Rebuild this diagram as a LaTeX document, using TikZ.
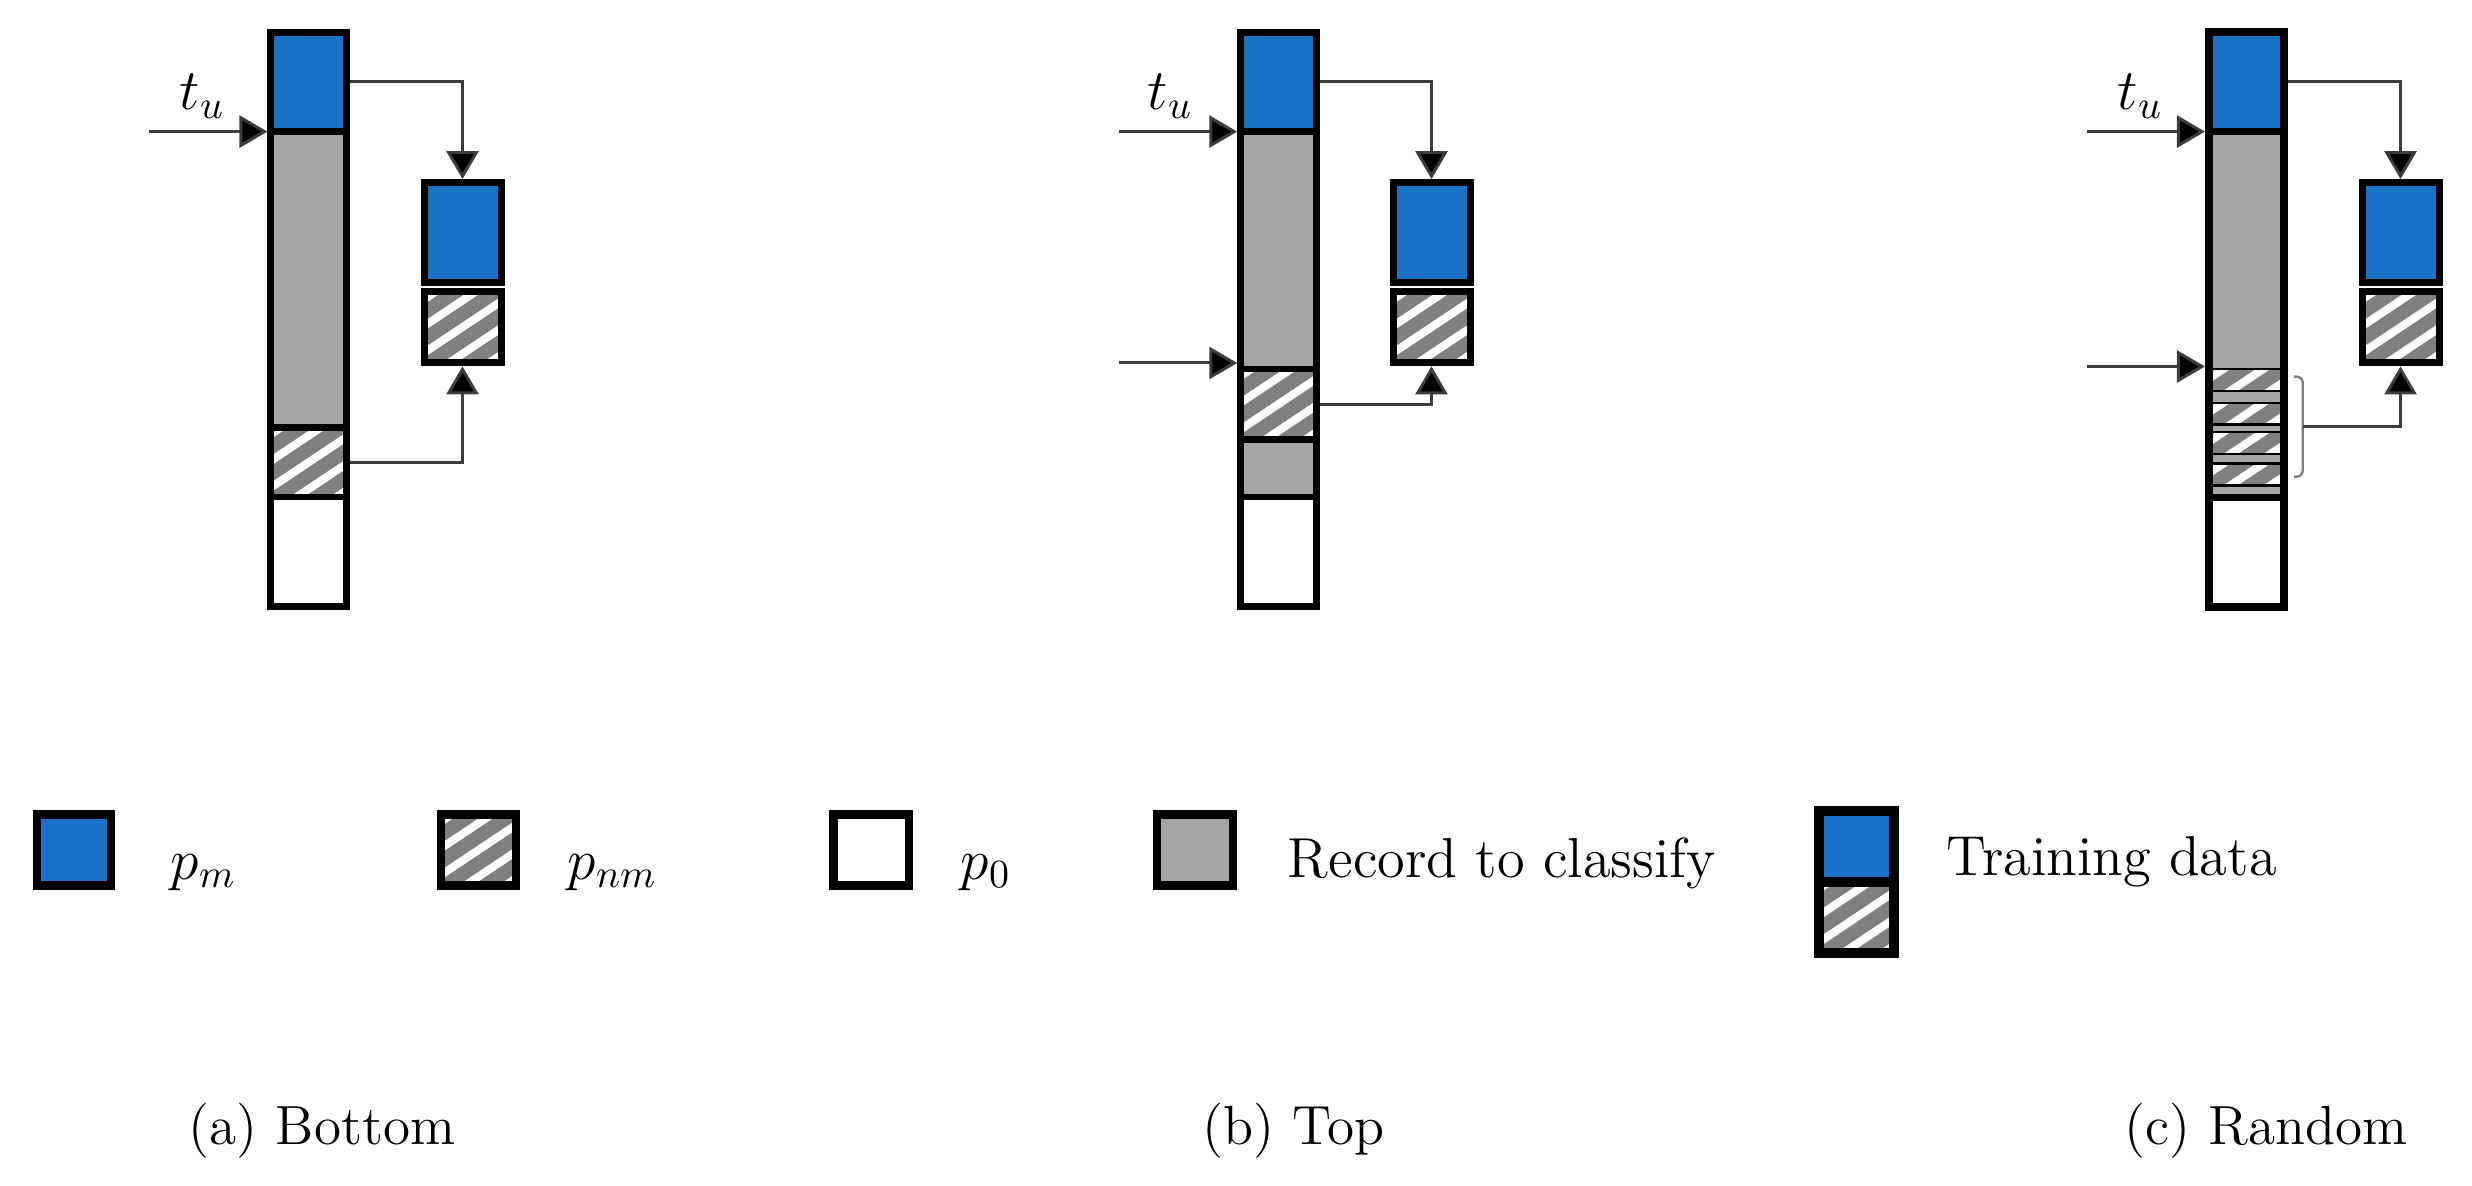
\documentclass[tikz,border=0pt]{standalone}
\usetikzlibrary{arrows.meta,fit,calc}
\definecolor{mblue}{RGB}{24,115,198}
\definecolor{rgray}{RGB}{166,166,166}
\definecolor{hgray}{RGB}{128,128,128}
\definecolor{cline}{RGB}{60,60,60}
\tikzset{
  hatchpic/.style={path picture={\foreach \k in {-6,...,6}{\draw[white,line width=2pt]
      ([xshift=\k*10pt]path picture bounding box.center) ++(-41.6pt,-27.75pt) -- ++(83.2pt,55.5pt);}}},
  segfill/.style={inner sep=0pt, outer sep=0pt, draw=none, fill=#1},
  hatchfill/.style={inner sep=0pt, outer sep=0pt, draw=none, fill=hgray, hatchpic},
  hatchbox/.style={inner sep=0pt, draw=black, line width=#1, fill=hgray, hatchpic},
  colbox/.style={inner sep=0pt, draw=black, line width=1.75pt},
  divline/.style={black, line width=1.6pt},
  thinline/.style={black, line width=0.6pt},
  plainbox/.style={inner sep=0pt, draw=black, line width=#1},
  conn/.style={cline, line width=0.75pt, arrows={-{Triangle[length=7pt,width=8pt,fill=black]}}},
  lbl/.style={anchor=base west, inner sep=0pt, font=\fontsize{14.1}{17}\selectfont},
  caplbl/.style={anchor=base west, inner sep=0pt, font=\fontsize{13.8}{16.5}\selectfont},
}
\begin{document}
\begin{tikzpicture}[x=0.25pt,y=-0.25pt]
\useasboundingbox (0,0) rectangle (2472,1186);

% ================= (a) Bottom =================
\node[segfill=mblue, fit={(270.95,32.2) (346.45,131.6)}] (a1) {};
\node[segfill=rgray, fit={(270.95,131.6) (346.45,427.6)}] (a2) {};
\node[hatchfill, fit={(270.95,427.6) (346.45,497)}] (a3) {};
\node[segfill=white, fit={(270.95,497) (346.45,606.7)}] (a4) {};
\draw[divline] (a1.south west) -- (a1.south east);
\draw[divline] (a2.south west) -- (a2.south east);
\draw[divline] (a3.south west) -- (a3.south east);
\node[colbox, fit={(270.95,32.2) (346.45,606.7)}] (a0) {};

\node[colbox, fill=mblue, fit={(424,182.6) (501,282.2)}] (ta1) {};
\node[hatchbox=1.75pt, fit={(424,291.4) (501,362.9)}] (ta2) {};

\coordinate (atu) at (148.7,131.6);
\node[lbl] (atulbl) at (179,110) {$t_u$};
\draw[conn] (atu) -- (atu -| a0.west);
\draw[conn] (a1.east -| a0.east) -| (ta1.north);
\draw[conn] (a3.east -| a0.east) -| (ta2.south);

% ================= (b) Top =================
\node[segfill=mblue, fit={(1240.75,32.2) (1316.25,131.6)}] (b1) {};
\node[segfill=rgray, fit={(1240.75,131.6) (1316.25,368.8)}] (b2) {};
\node[hatchfill, fit={(1240.75,368.8) (1316.25,439.4)}] (b3) {};
\node[segfill=rgray, fit={(1240.75,439.4) (1316.25,497)}] (b4) {};
\node[segfill=white, fit={(1240.75,497) (1316.25,606.7)}] (b5) {};
\draw[divline] (b1.south west) -- (b1.south east);
\draw[divline] (b2.south west) -- (b2.south east);
\draw[divline] (b3.south west) -- (b3.south east);
\draw[divline] (b4.south west) -- (b4.south east);
\node[colbox, fit={(1240.75,32.2) (1316.25,606.7)}] (b0) {};

\node[colbox, fill=mblue, fit={(1393,182.6) (1470,282.2)}] (tb1) {};
\node[hatchbox=1.75pt, fit={(1393,291.4) (1470,362.9)}] (tb2) {};

\coordinate (btu) at (1118.5,131.6);
\coordinate (bst) at (1118.5,363);
\node[lbl] (btulbl) at (1147,110) {$t_u$};
\draw[conn] (btu) -- (btu -| b0.west);
\draw[conn] (bst) -- (bst -| b0.west);
\draw[conn] (b1.east -| b0.east) -| (tb1.north);
\draw[conn] (b3.east -| b0.east) -| (tb2.south);

% ================= (c) Random =================
\node[segfill=mblue, fit={(2208.95,32.2) (2284.45,131.6)}] (c1) {};
\node[segfill=rgray, fit={(2208.95,131.6) (2284.45,369.3)}] (c2) {};
\node[hatchfill, fit={(2208.95,369.3) (2284.45,390.8)}] (c3) {};
\node[segfill=rgray, fit={(2208.95,390.8) (2284.45,403)}] (c4) {};
\node[hatchfill, fit={(2208.95,403) (2284.45,424.7)}] (c5) {};
\node[segfill=rgray, fit={(2208.95,424.7) (2284.45,432.2)}] (c6) {};
\node[hatchfill, fit={(2208.95,432.2) (2284.45,454.2)}] (c7) {};
\node[segfill=rgray, fit={(2208.95,454.2) (2284.45,463.7)}] (c8) {};
\node[hatchfill, fit={(2208.95,463.7) (2284.45,485.5)}] (c9) {};
\node[segfill=rgray, fit={(2208.95,485.5) (2284.45,497.5)}] (c10) {};
\node[segfill=white, fit={(2208.95,497.5) (2284.45,606.7)}] (c11) {};
\draw[divline] (c1.south west) -- (c1.south east);
\foreach \s in {c2,c3,c4,c5,c6,c7,c8,c9}{\draw[thinline] (\s.south west) -- (\s.south east);}
\draw[divline] (c10.south west) -- (c10.south east);
\node[colbox, line width=2pt, fit={(2208.95,32.2) (2284.45,606.7)}] (c0) {};

\node[colbox, fill=mblue, fit={(2362,182.6) (2439,282.2)}] (tc1) {};
\node[hatchbox=1.75pt, fit={(2362,291.4) (2439,362.9)}] (tc2) {};

\coordinate (ctu) at (2086.7,131.6);
\coordinate (cst) at (2086.7,366.5);
\node[lbl] (ctulbl) at (2117,110) {$t_u$};
\draw[conn] (ctu) -- (ctu -| c0.west);
\draw[conn] (cst) -- (cst -| c0.west);
\draw[conn] (c1.east -| c0.east) -| (tc1.north);
\draw[gray, line width=0.6pt, rounded corners=1.5pt] (2294,376.7) -- (2302.7,376.7) -- (2302.7,476.7) -- (2294,476.7);
\coordinate (brc) at (2302.7,426.5);
\draw[conn] (brc) -| (tc2.south);

% ================= legend =================
\node[plainbox=2.1pt, fill=mblue, fit={(37.1,814.3) (110.9,885.5)}] (lg1) {};
\node[lbl] (lt1) at (170,879) {$p_m$};
\node[hatchbox=2.1pt, fit={(441,814.3) (516,885.5)}] (lg2) {};
\node[lbl] (lt2) at (567,879) {$p_{nm}$};
\node[plainbox=2.1pt, fill=white, fit={(833.3,814.3) (909,885.5)}] (lg3) {};
\node[lbl] (lt3) at (960,879) {$p_0$};
\node[plainbox=2.1pt, fill=rgray, fit={(1156.8,814.3) (1233,885.5)}] (lg4) {};
\node[lbl] (lt4) at (1287,877) {Record to classify};
\node[plainbox=2.5pt, fill=mblue, fit={(1819,811) (1894,881.7)}] (lg5) {};
\node[hatchbox=2.5pt, fit={(1819,881.7) (1894,952.8)}] (lg6) {};
\node[lbl] (lt5) at (1946,875) {Training data};

% ================= captions =================
\node[caplbl] (cap1) at (188,1144) {(a) Bottom};
\node[caplbl] (cap2) at (1202,1144) {(b) Top};
\node[caplbl] (cap3) at (2124,1144) {(c) Random};
\end{tikzpicture}
\end{document}
